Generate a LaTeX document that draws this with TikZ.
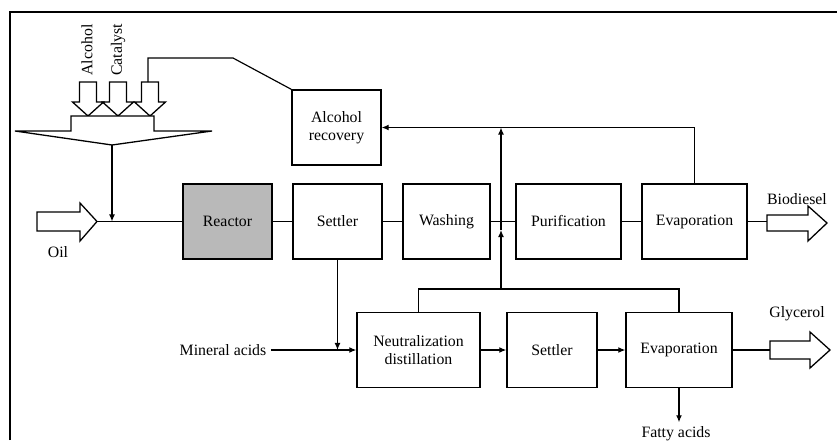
\documentclass[tikz,border=0pt]{standalone}
\usepackage{fontspec}
\setmainfont{Liberation Serif}
\usetikzlibrary{arrows.meta}
\begin{document}
\begin{tikzpicture}[x=0.03cm, y=-0.03cm, line width=1pt, font=\fontsize{13.5}{15}\selectfont]
    \tikzstyle{box_style} = [rectangle, draw=black, line width=1.1pt, minimum height=2.25cm, align=center, inner sep=1pt]
    \tikzstyle{reactor_style} = [box_style, fill=gray!55]
    \tikzstyle{edge_style} = [draw=black, line width=1pt]
    \tikzstyle{arrow_style} = [edge_style, -{Latex[length=6pt,width=5pt]}]
    \tikzstyle{bigarrow_style} = [draw=black, line width=1.1pt, fill=white, line join=miter]
    \useasboundingbox (0,0) rectangle (837,440);

    % frame
    \draw[line width=1.1pt] (10,440) -- (10,12) -- (837,12);

    \node[box_style, minimum width=2.67cm] (rec) at (336.5,127.5) {Alcohol\\recovery};
    \node[reactor_style, minimum width=2.67cm] (reactor) at (227.5,221.5) {Reactor};
    \node[box_style, minimum width=2.67cm] (settler) at (337.5,221.5) {Settler};
    \node[box_style, minimum width=2.61cm] (washing) at (446.5,221.5) {Washing};
    \node[box_style, minimum width=3.15cm] (purif) at (568.5,221.5) {Purification};
    \node[box_style, minimum width=3.15cm] (evap) at (694.5,221.5) {Evaporation};
    \node[box_style, minimum width=3.69cm] (neut) at (418.5,350) {Neutralization\\distillation};
    \node[box_style, minimum width=2.70cm] (settlerb) at (552,350) {Settler};
    \node[box_style, minimum width=3.18cm] (evapb) at (679,350) {Evaporation};

    \node (oil) at (58,252) {Oil};
    \node (biodiesel) at (797,199) {Biodiesel};
    \node (glycerol) at (797,314) {Glycerol};
    \node (minacid) at (223,350) {Mineral acids};
    \node (fatty) at (676,434) {Fatty acids};
    \node[rotate=90] (alcohol) at (87,50) {Alcohol};
    \node[rotate=90] (catalyst) at (118,50) {Catalyst};

    % feed arrows and mixer
    \foreach \cx in {88,118,150} {
        \draw[bigarrow_style] (\cx-8.5,82) -- (\cx+8.5,82) -- (\cx+8.5,102) -- (\cx+15.5,102)
            -- (\cx,116) -- (\cx-15.5,102) -- (\cx-8.5,102) -- cycle;
    }
    \draw[bigarrow_style] (71,116) -- (154,116) -- (154,131) -- (212,131) -- (112,145)
        -- (15,131) -- (71,131) -- cycle;
    \coordinate (mixtip) at (112,145);
    \coordinate (join) at (112,221.5);
    \coordinate (feedtop) at (148,82);

    % oil arrow
    \draw[bigarrow_style] (37,212) -- (80,212) -- (80,203) -- (97,221.5) -- (80,241)
        -- (80,231) -- (37,231) -- cycle;
    \coordinate (oiltip) at (97,221.5);

    % product arrows
    \draw[bigarrow_style] (767,215) -- (808,215) -- (808,206) -- (827,223) -- (808,241)
        -- (808,231) -- (767,231) -- cycle;
    \coordinate (biotail) at (767,223);
    \draw[bigarrow_style] (770,341) -- (810,341) -- (810,332) -- (830,350) -- (810,368)
        -- (810,359) -- (770,359) -- cycle;
    \coordinate (glytail) at (770,350);

    \draw[arrow_style] (mixtip) -- (join);
    \draw[edge_style] (oiltip) -- (reactor.west);
    \draw[edge_style] (reactor) -- (settler);
    \draw[edge_style] (settler) -- (washing);
    \draw[edge_style] (washing) -- (purif);
    \draw[edge_style] (purif) -- (evap);
    \draw[edge_style] (evap.east) -- (evap.east -| biotail);

    % recovery loop
    \draw[edge_style] (feedtop) -- (148,58) -- (233,58) -- (rec.north west);
    \draw[arrow_style] (evap.north) |- (rec.east);

    % glycerol side
    \draw[arrow_style] (settler.south) -- (settler.south |- minacid.east);
    \draw[arrow_style] (minacid.east) -- (neut.west);
    \draw[arrow_style] (neut) -- (settlerb);
    \draw[arrow_style] (settlerb) -- (evapb);
    \draw[edge_style] (evapb.east) -- (glytail);
    \draw[arrow_style] (evapb.south) -- (evapb.south |- fatty.north);

    \coordinate (colmid) at (501,289);
    \coordinate (crossing) at (501,230);
    \coordinate (rectop) at (501,127.5);
    \draw[edge_style] (neut.north) |- (colmid) -| (evapb.north);
    \draw[arrow_style] (colmid) -- (crossing);
    \draw[arrow_style] (crossing) -- (rectop);
\end{tikzpicture}
\end{document}
